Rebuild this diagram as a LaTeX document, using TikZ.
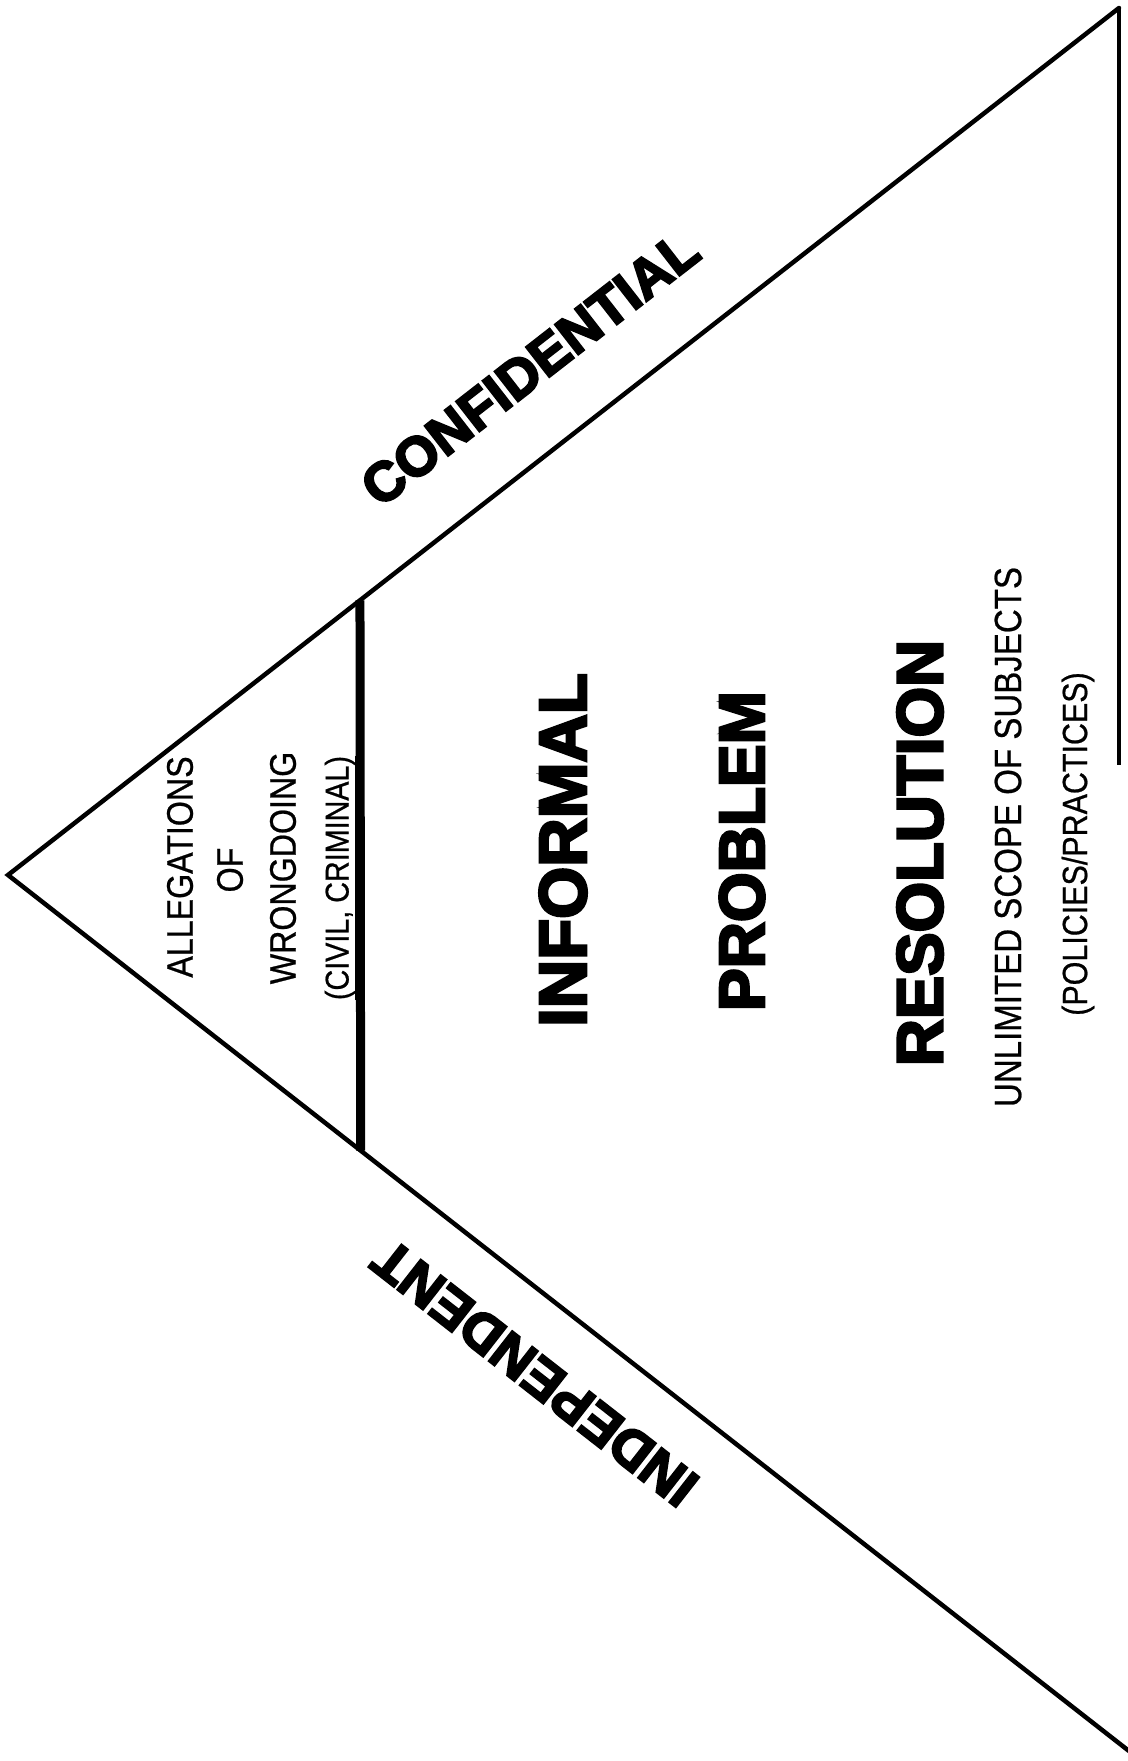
\documentclass[tikz,border=0pt]{standalone}
\usepackage{fontspec}
\setmainfont{Liberation Sans}
\newfontfamily\narrowf[FakeStretch=0.87,FakeBold=0.6]{Liberation Sans}
\newfontfamily\heavyf[FakeBold=4]{Liberation Sans Bold}
\usetikzlibrary{calc}
\begin{document}
\begin{tikzpicture}[x=1pt,y=-1pt,
  edge/.style={line width=4.5pt, line cap=round, line join=miter},
  small/.style={font=\narrowf\fontsize{37}{40}\selectfont, rotate=90, inner sep=0pt},
  big/.style={font=\heavyf\fontsize{67}{70}\selectfont, rotate=90, inner sep=0pt},
  slant/.style={font=\heavyf\fontsize{55}{60}\selectfont, inner sep=0pt}]
\useasboundingbox (0,0) rectangle (1127,1761);
% triangle
\coordinate (A) at (8,875);
\coordinate (B) at (1119,8);
\coordinate (C) at (1129,1751);
\coordinate (R) at (1119,765);
\draw[edge] (B) -- (A) -- (C);
\draw[line width=3.5pt] (B) -- (R);
% thick divider
\coordinate (T1) at ($(A)!0.3168!(B)$);
\coordinate (T2) at ($(A)!0.3146!(C)$);
\draw[line width=9pt] (T1) -- (T2);
% apex texts
\node[small] (alleg) at (180,867) {ALLEGATIONS};
\node[small] (of) at (230,870) {OF};
\node[small] (wrong) at (283,868) {WRONGDOING};
\node[small, font=\narrowf\fontsize{33}{36}\selectfont] (civ) at (340,878) {(CIVIL, CRIMINAL)};
\draw[line width=1.5pt] (civ.south west) -- (civ.south east);
% big texts
\node[big] (inf) at (563,850) {INFORMAL};
\node[big, font=\heavyf\fontsize{64}{68}\selectfont] (prob) at (742,851) {PROBLEM};
\node[big, font=\heavyf\fontsize{65}{68}\selectfont] (res) at (920,853) {RESOLUTION};
\node[small, font=\narrowf\fontsize{38}{40}\selectfont] (unl) at (1008,837) {UNLIMITED SCOPE OF SUBJECTS};
\node[small, font=\narrowf\fontsize{35}{38}\selectfont] (pol) at (1078,844) {(POLICIES/PRACTICES)};
% slanted texts
\node[slant, rotate=37.9] (conf) at (530,368) {CONFIDENTIAL};
\node[slant, rotate=142] (indep) at (535,1373) {INDEPENDENT};
\end{tikzpicture}
\end{document}
